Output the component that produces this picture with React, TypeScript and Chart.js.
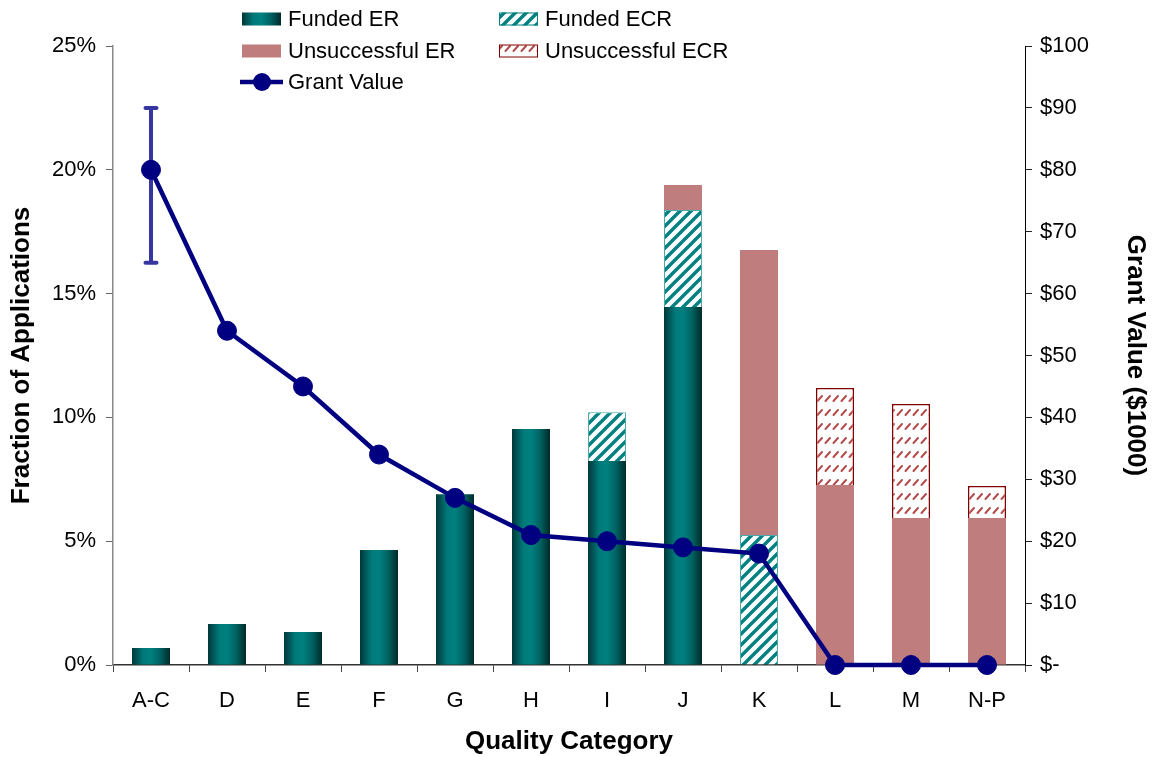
import React, { useEffect, useRef } from "react";
import { Chart, registerables } from "chart.js";

Chart.register(...registerables);

const categories = ["A-C", "D", "E", "F", "G", "H", "I", "J", "K", "L", "M", "N-P"];
const fundedER = [0.69, 1.66, 1.33, 4.64, 6.9, 9.53, 8.24, 14.46, null, null, null, null];
const fundedECR = [null, null, null, null, null, null, 1.97, 3.92, 5.25, null, null, null];
const unsuccessfulER = [null, null, null, null, null, null, null, 1.01, 11.51, 7.27, 5.94, 5.94];
const unsuccessfulECR = [null, null, null, null, null, null, null, null, null, 3.92, 4.6, 1.29];
const grantValue = [80, 54, 45, 34, 27, 21, 20, 19, 18, 0, 0, 0];
const grantErrorLow = [65, null, null, null, null, null, null, null, null, null, null, null];
const grantErrorHigh = [90, null, null, null, null, null, null, null, null, null, null, null];
const leftTicks = [0, 5, 10, 15, 20, 25];
const rightTicks = [0, 10, 20, 30, 40, 50, 60, 70, 80, 90, 100];

const FONT = "'Liberation Sans', Arial, sans-serif";
const TICK_SIZE = 22;
const TITLE_SIZE = 26;
const NAVY = "#000080";
const ROSE = "#BF7D7D";
const TEAL = "#008080";

function makeTealHatch(ctx: CanvasRenderingContext2D) {
  const c = document.createElement("canvas");
  c.width = 11;
  c.height = 11;
  const g = c.getContext("2d")!;
  g.fillStyle = "#ffffff";
  g.fillRect(0, 0, 11, 11);
  g.strokeStyle = TEAL;
  g.lineWidth = 3.4;
  g.beginPath();
  g.moveTo(-5.5, 5.5);
  g.lineTo(5.5, -5.5);
  g.moveTo(0, 11);
  g.lineTo(11, 0);
  g.moveTo(5.5, 16.5);
  g.lineTo(16.5, 5.5);
  g.stroke();
  return ctx.createPattern(c, "repeat")!;
}

function makeRedDash(ctx: CanvasRenderingContext2D) {
  const c = document.createElement("canvas");
  c.width = 8;
  c.height = 14;
  const g = c.getContext("2d")!;
  g.fillStyle = "#ffffff";
  g.fillRect(0, 0, 8, 14);
  g.strokeStyle = "#B44C4C";
  g.lineWidth = 2;
  g.lineCap = "round";
  g.beginPath();
  g.moveTo(1.5, 9);
  g.lineTo(6, 4);
  g.stroke();
  return ctx.createPattern(c, "repeat")!;
}

function tealGradient(ctx: CanvasRenderingContext2D, x0: number, x1: number) {
  const g = ctx.createLinearGradient(x0, 0, x1, 0);
  g.addColorStop(0, "#003838");
  g.addColorStop(0.3, "#007a7a");
  g.addColorStop(0.5, "#008080");
  g.addColorStop(0.75, "#006060");
  g.addColorStop(1, "#002a2a");
  return g;
}

function barGradient(ctx: any) {
  const chart = ctx.chart;
  const xs = chart.scales && chart.scales.x;
  if (!xs || ctx.type !== "data") return TEAL;
  const cx = xs.getPixelForValue(ctx.dataIndex);
  const w = (xs.width / categories.length) * 0.5;
  if (!isFinite(cx) || !isFinite(w) || w <= 0) return TEAL;
  return tealGradient(chart.ctx, cx - w / 2, cx + w / 2);
}

const errorBarPlugin = {
  id: "errorBars",
  beforeDatasetsDraw(chart: any) {
    const { ctx, scales } = chart;
    const x = scales.x;
    const y1 = scales.y1;
    ctx.save();
    ctx.strokeStyle = "#3636A0";
    ctx.lineWidth = 4;
    ctx.lineCap = "round";
    grantErrorLow.forEach((lo, i) => {
      const hi = grantErrorHigh[i];
      if (lo == null || hi == null) return;
      const px = x.getPixelForValue(i);
      const yl = y1.getPixelForValue(lo);
      const yh = y1.getPixelForValue(hi);
      ctx.beginPath();
      ctx.moveTo(px, yl);
      ctx.lineTo(px, yh);
      ctx.moveTo(px - 5.5, yl);
      ctx.lineTo(px + 5.5, yl);
      ctx.moveTo(px - 5.5, yh);
      ctx.lineTo(px + 5.5, yh);
      ctx.stroke();
    });
    ctx.restore();
  },
};

const legendPlugin = {
  id: "customLegend",
  afterDraw(chart: any) {
    const ctx: CanvasRenderingContext2D = chart.ctx;
    const hatch = makeTealHatch(ctx);
    const dash = makeRedDash(ctx);
    ctx.save();
    ctx.font = `${TICK_SIZE}px ${FONT}`;
    ctx.textBaseline = "middle";
    ctx.fillStyle = "#000";
    const rows = [19, 51, 82];
    const col1 = 242;
    const col2 = 499;
    const sw = 39;
    const sh = 13;
    ctx.fillStyle = tealGradient(ctx, col1, col1 + sw);
    ctx.fillRect(col1, rows[0] - sh / 2, sw, sh);
    ctx.fillStyle = hatch;
    ctx.fillRect(col2, rows[0] - sh / 2, sw, sh);
    ctx.strokeStyle = TEAL;
    ctx.lineWidth = 1;
    ctx.strokeRect(col2 + 0.5, rows[0] - sh / 2 + 0.5, sw - 1, sh - 1);
    ctx.fillStyle = ROSE;
    ctx.fillRect(col1, rows[1] - sh / 2, sw, sh);
    ctx.fillStyle = dash;
    ctx.fillRect(col2, rows[1] - sh / 2, sw, sh);
    ctx.strokeStyle = "#800000";
    ctx.lineWidth = 1;
    ctx.strokeRect(col2 + 0.5, rows[1] - sh / 2 + 0.5, sw - 1, sh - 1);
    ctx.strokeStyle = NAVY;
    ctx.lineWidth = 4.5;
    ctx.beginPath();
    ctx.moveTo(col1 - 2, rows[2]);
    ctx.lineTo(col1 + 41, rows[2]);
    ctx.stroke();
    ctx.fillStyle = NAVY;
    ctx.beginPath();
    ctx.arc(col1 + 20, rows[2], 9, 0, Math.PI * 2);
    ctx.fill();

    ctx.fillStyle = "#000";
    ctx.fillText("Funded ER", col1 + 46, rows[0] + 1);
    ctx.fillText("Funded ECR", col2 + 46, rows[0] + 1);
    ctx.fillText("Unsuccessful ER", col1 + 46, rows[1] + 1);
    ctx.fillText("Unsuccessful ECR", col2 + 46, rows[1] + 1);
    ctx.fillText("Grant Value", col1 + 46, rows[2] + 1);
    ctx.restore();
  },
};

export default function App() {
  const ref = useRef<HTMLCanvasElement | null>(null);

  useEffect(() => {
    const canvas = ref.current!;
    const c2d = canvas.getContext("2d")!;
    const hatch = makeTealHatch(c2d);
    const dash = makeRedDash(c2d);

    const chart = new Chart(canvas, {
      type: "bar",
      data: {
        labels: categories,
        datasets: [
          {
            type: "line",
            label: "Grant Value",
            data: grantValue,
            yAxisID: "y1",
            borderColor: NAVY,
            backgroundColor: NAVY,
            borderWidth: 4.5,
            pointRadius: 9.5,
            pointBackgroundColor: NAVY,
            pointBorderColor: NAVY,
            pointBorderWidth: 1,
            tension: 0,
            clip: false,
            order: 0,
          } as any,
          {
            label: "Funded ER",
            data: fundedER,
            backgroundColor: barGradient,
            borderWidth: 0,
            stack: "s",
            order: 1,
          },
          {
            label: "Funded ECR",
            data: fundedECR,
            backgroundColor: hatch,
            borderColor: "#4FA8A8",
            borderWidth: 1,
            stack: "s",
            order: 1,
          },
          {
            label: "Unsuccessful ER",
            data: unsuccessfulER,
            backgroundColor: ROSE,
            borderWidth: 0,
            stack: "s",
            order: 1,
          },
          {
            label: "Unsuccessful ECR",
            data: unsuccessfulECR,
            backgroundColor: dash,
            borderColor: "#800000",
            borderWidth: 1.5,
            stack: "s",
            order: 1,
          },
        ],
      },
      options: {
        responsive: false,
        animation: false,
        layout: { padding: { top: 46, left: 0, right: 0, bottom: 0 } },
        datasets: {
          bar: { barPercentage: 0.5, categoryPercentage: 1 },
        },
        plugins: {
          legend: { display: false },
          tooltip: { enabled: false },
        },
        scales: {
          x: {
            stacked: true,
            grid: {
              drawOnChartArea: false,
              drawTicks: true,
              tickLength: 7,
              color: "#444",
              offset: true,
            },
            border: { color: "#333", width: 1.5 },
            ticks: {
              color: "#000",
              font: { family: FONT, size: TICK_SIZE },
              padding: 16,
              maxRotation: 0,
            },
            title: {
              display: true,
              text: "Quality Category",
              color: "#000",
              font: { family: FONT, size: TITLE_SIZE, weight: "bold" },
              padding: { top: 0, bottom: 0 },
            },
            afterFit: (s: any) => {
              s.height = 92;
            },
          },
          y: {
            stacked: true,
            position: "left",
            min: 0,
            max: 25,
            afterBuildTicks: (s: any) => {
              s.ticks = leftTicks.map((v) => ({ value: v }));
            },
            grid: {
              drawOnChartArea: false,
              drawTicks: true,
              tickLength: 7,
              color: "#666",
            },
            border: { color: "#888", width: 1.5 },
            ticks: {
              color: "#000",
              font: { family: FONT, size: TICK_SIZE },
              padding: 10,
              callback: (v: any) => `${v}%`,
            },
            title: {
              display: true,
              text: "Fraction of Applications",
              color: "#000",
              font: { family: FONT, size: TITLE_SIZE, weight: "bold" },
              padding: { top: 6, bottom: 0 },
            },
            afterFit: (s: any) => {
              s.width = 113;
            },
          },
          y1: {
            position: "right",
            min: 0,
            max: 100,
            afterBuildTicks: (s: any) => {
              s.ticks = rightTicks.map((v) => ({ value: v }));
            },
            grid: {
              drawOnChartArea: false,
              drawTicks: true,
              tickLength: 7,
              color: "#222",
            },
            border: { color: "#000", width: 1 },
            ticks: {
              color: "#000",
              font: { family: FONT, size: TICK_SIZE },
              padding: 8,
              callback: (v: any) => (Number(v) === 0 ? "$-" : `$${v}`),
            },
            title: {
              display: true,
              text: "Grant Value ($1000)",
              color: "#000",
              font: { family: FONT, size: TITLE_SIZE, weight: "bold" },
              padding: { top: 5, bottom: 0 },
            },
            afterFit: (s: any) => {
              s.width = 131;
            },
          },
        },
      },
      plugins: [errorBarPlugin, legendPlugin],
    });
    return () => chart.destroy();
  }, []);

  return (
    <div style={{ position: "fixed", left: 0, top: 0, width: 1156, height: 757, background: "#fff" }}>
      <canvas ref={ref} width={1156} height={757} style={{ display: "block" }} />
    </div>
  );
}
